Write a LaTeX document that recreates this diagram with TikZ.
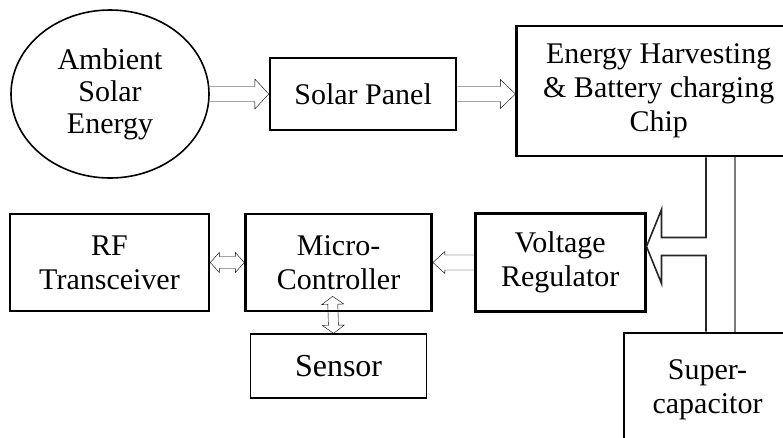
\documentclass[tikz,border=0pt]{standalone}
\usepackage{fontspec}
\setmainfont{Liberation Serif}
\usepackage{tikz}
\usetikzlibrary{positioning,calc,shapes.geometric}
\definecolor{arrowgrey}{HTML}{262626}
\definecolor{busgrey}{HTML}{7A7A7A}

\begin{document}
\begin{tikzpicture}[x=1pt,y=-1pt,
  box/.style={draw,line width=2.6pt,inner sep=0pt,align=center,minimum width=186pt,minimum height=97pt,font=\fontsize{30}{34}\selectfont},
  thinbox/.style={box,line width=1.6pt,font=\fontsize{32}{36}\selectfont},
  arrline/.style={draw=arrowgrey,fill=white,line width=1.6pt,line join=miter},
  hollow/.style args={#1/#2/#3}{arrline,to path={
    ($(\tikztostart)!#1!90:(\tikztotarget)$)
    -- ($(\tikztotarget)!#2!(\tikztostart)!#1!90:(\tikztotarget)$)
    -- ($(\tikztotarget)!#2!(\tikztostart)!#3!90:(\tikztotarget)$)
    -- (\tikztotarget)
    -- ($(\tikztotarget)!#2!(\tikztostart)!#3!-90:(\tikztotarget)$)
    -- ($(\tikztotarget)!#2!(\tikztostart)!#1!-90:(\tikztotarget)$)
    -- ($(\tikztostart)!#1!-90:(\tikztotarget)$)}},
  hollowboth/.style args={#1/#2/#3}{arrline,to path={
    (\tikztostart)
    -- ($(\tikztostart)!#2!(\tikztotarget)!#3!90:(\tikztotarget)$)
    -- ($(\tikztostart)!#2!(\tikztotarget)!#1!90:(\tikztotarget)$)
    -- ($(\tikztotarget)!#2!(\tikztostart)!#1!90:(\tikztotarget)$)
    -- ($(\tikztotarget)!#2!(\tikztostart)!#3!90:(\tikztotarget)$)
    -- (\tikztotarget)
    -- ($(\tikztotarget)!#2!(\tikztostart)!#3!-90:(\tikztotarget)$)
    -- ($(\tikztotarget)!#2!(\tikztostart)!#1!-90:(\tikztotarget)$)
    -- ($(\tikztostart)!#2!(\tikztotarget)!#1!-90:(\tikztotarget)$)
    -- ($(\tikztostart)!#2!(\tikztotarget)!#3!-90:(\tikztotarget)$)
    -- cycle}},
  busline/.style={draw=arrowgrey,line width=1.6pt,line join=miter}
]
\useasboundingbox (0,0) rectangle (783,437);
\clip (0,0) rectangle (783,437);

% top row
\node[ellipse,draw,line width=1.6pt,inner sep=0pt,minimum width=198pt,minimum height=168pt,align=center,font=\fontsize{30}{32}\selectfont] (sun) at (110,94) {Ambient\\Solar\\Energy};
\node[box,minimum height=72pt,right=59pt of sun] (panel) {Solar Panel};
\node[box,minimum width=284pt,minimum height=130pt,right=58pt of panel,yshift=3pt] (chip) {Energy Harvesting\\\& Battery charging\\Chip};

% bottom row
\node[box,minimum width=199pt] (rf) at (109.5,262.5) {RF\\Transceiver};
\node[box,right=34pt of rf] (mc) {Micro-\\Controller};
\node[box,minimum width=170pt,minimum height=98pt,right=41pt of mc] (vr) {Voltage\\Regulator};
\node[thinbox,minimum width=176pt,minimum height=64pt,below=21pt of mc] (sensor) {Sensor};
\node[box,minimum width=167pt,minimum height=114pt] (super) at (707.5,390) {Super-\\capacitor};

% arrows
\draw (sun.east) to[hollow=7.5pt/14pt/15pt] (panel.west);
\draw (panel.east) to[hollow=7.5pt/15pt/14.5pt] (panel.east -| chip.west);
\draw (vr.west) to[hollow=7.5pt/12pt/11pt] (mc.east);
\draw (rf.east) to[hollowboth=6pt/9pt/10pt] (mc.west);
\draw ([xshift=-5pt]sensor.north) to[hollowboth=5pt/8pt/11pt] ([xshift=-6pt,yshift=16pt]mc.south);

% bus between chip and supercapacitor
\coordinate (busL) at (706,0);
\coordinate (tap) at ([yshift=16pt]vr.east);
\draw[busline] (busL |- chip.south) -- ($(busL |- tap)+(0,-9)$) -- ($(tap)+(15,-9)$)
  -- ($(tap)+(15,-37)$) -- (tap) -- ($(tap)+(15,37)$) -- ($(tap)+(15,9)$)
  -- ($(busL |- tap)+(0,9)$) -- (busL |- super.north);
\draw[busline,draw=busgrey] ($(busL |- chip.south)+(29,0)$) -- ($(busL |- super.north)+(29,0)$);
\end{tikzpicture}
\end{document}
